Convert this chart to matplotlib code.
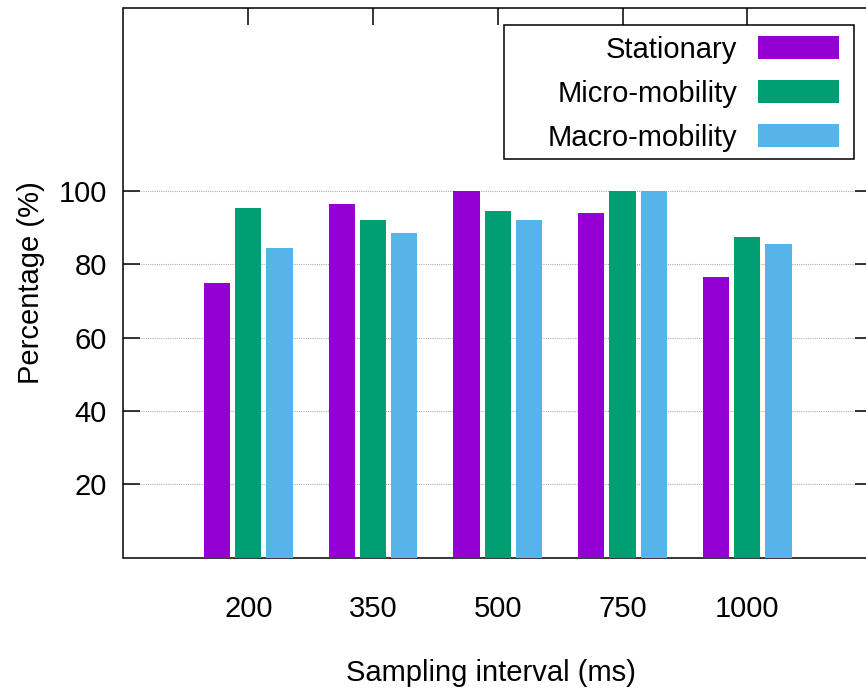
import numpy as np
import matplotlib
matplotlib.use('Agg')
import matplotlib.pyplot as plt
from matplotlib.patches import Rectangle

# Dữ liệu
intervals = ['200', '350', '500', '750', '1000']
stationary = [75.0, 96.5, 100.0, 94.0, 76.5]
micro_mobility = [95.5, 92.0, 94.5, 100.0, 87.5]
macro_mobility = [84.5, 88.5, 92.2, 100.0, 85.5]

series = {
    'Stationary': stationary,
    'Micro-mobility': micro_mobility,
    'Macro-mobility': macro_mobility,
}
colors = ['#9400D3', '#009E73', '#56B4E9']

plt.rcParams['font.family'] = ['Liberation Sans', 'DejaVu Sans']
plt.rcParams['font.size'] = 21

fig = plt.figure(figsize=(8.66, 6.96), dpi=100)
ax = fig.add_axes([123.5 / 866, (696 - 557.5) / 696, 748.5 / 866, 549.5 / 696])

x = np.arange(len(intervals))
width = 0.21
offsets = [-0.25, 0.0, 0.25]
for i, (name, vals) in enumerate(series.items()):
    ax.bar(x + offsets[i], vals, width, color=colors[i], label=name, zorder=3)

ax.set_xlim(-1, 5)
ax.set_ylim(0, 150)
ax.set_yticks([20, 40, 60, 80, 100])
ax.set_xticks(x)
ax.set_xticklabels(intervals)

ax.tick_params(axis='y', direction='in', length=12.5, width=1.1,
               left=True, right=True, pad=12)
ax.tick_params(axis='x', direction='in', length=12.5, width=1.1,
               top=True, bottom=False, pad=27)
ax.grid(axis='y', linestyle=(0, (1, 1)), color='#b0b0b0', linewidth=0.8, zorder=0)
ax.set_axisbelow(True)

for sp in ax.spines.values():
    sp.set_linewidth(1.1)

ax.set_ylabel('Percentage (%)', labelpad=10)
ax.set_xlabel('Sampling interval (ms)')
ax.xaxis.set_label_coords((491 - 123.5) / 748.5, -0.185)

# Khung legend kiểu gnuplot (lề trái rộng hơn)
box_x0 = (504 - 123.5) / 748.5
box_x1 = (854 - 123.5) / 748.5
box_y0 = (557.5 - 159) / 549.5
box_y1 = (557.5 - 25) / 549.5
ax.add_patch(Rectangle((box_x0, box_y0), box_x1 - box_x0, box_y1 - box_y0,
                       transform=ax.transAxes, fill=True, facecolor='white',
                       edgecolor='black', linewidth=1.1, zorder=4))

leg = ax.legend(loc='upper right', bbox_to_anchor=((851 - 123.5) / 748.5, (557.5 - 24) / 549.5),
                borderaxespad=0, markerfirst=False, frameon=False,
                handlelength=2.8, handleheight=0.83,
                handletextpad=0.7, labelspacing=0.55, borderpad=0.4)
leg.set_zorder(5)

fig.savefig('out.png', dpi=100)
